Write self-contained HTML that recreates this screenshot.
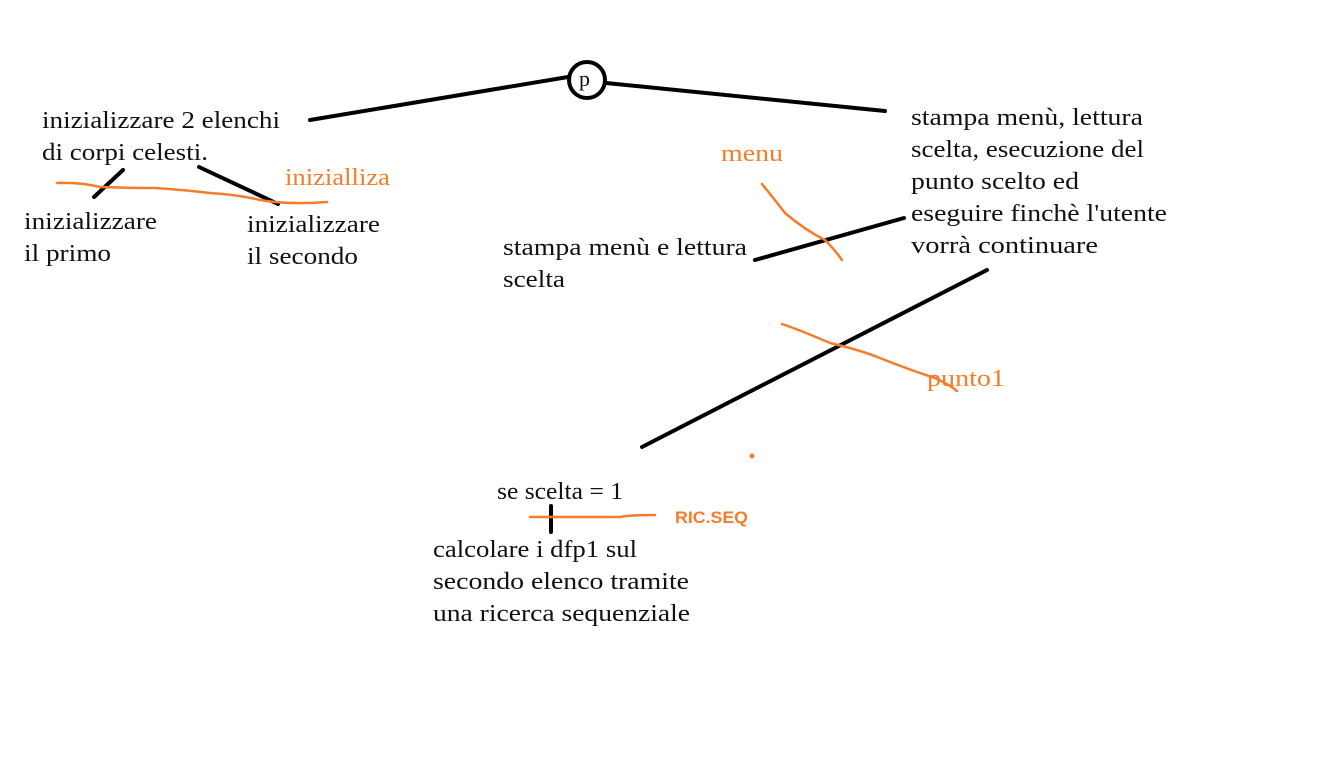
<!DOCTYPE html>
<html><head><meta charset="utf-8"><style>
html,body{margin:0;padding:0;background:#fff;}
svg{display:block}
text{font-family:"Liberation Serif",serif;font-size:24px;fill:#111;}
.o{fill:#f47c2a;}
</style></head><body>
<svg width="1339" height="761" viewBox="0 0 1339 761" xmlns="http://www.w3.org/2000/svg">
<g stroke="#000" stroke-width="4" stroke-linecap="round" fill="none">
<line x1="310" y1="120" x2="568" y2="77"/>
<line x1="606" y1="83" x2="885" y2="111"/>
<circle cx="587" cy="80" r="18"/>
<line x1="123" y1="170" x2="94" y2="197"/>
<line x1="199" y1="167" x2="278" y2="204"/>
<line x1="755" y1="260" x2="904" y2="218"/>
<line x1="987" y1="270" x2="642" y2="447"/>
<line x1="551" y1="506" x2="551" y2="532"/>
</g>
<g stroke="#f47c2a" stroke-width="2.5" stroke-linecap="round" fill="none">
<path d="M57 183 Q80 182 100 187 Q130 188 155 188 Q185 190 210 193 Q240 195 260 200 Q290 205 327 202"/>
<path d="M762 184 Q775 200 785 213 Q805 230 825 240 Q835 250 842 260"/>
<path d="M782 324 Q800 330 830 343 Q860 350 880 358 Q910 370 935 378 Q950 385 957 391"/>
<path d="M530 517 L620 517 Q630 515 655 515"/>
</g>
<circle cx="752" cy="456" r="2.5" fill="#f47c2a"/>
<g lengthAdjust="spacingAndGlyphs">
<text x="42" y="128" textLength="238" lengthAdjust="spacingAndGlyphs">inizializzare 2 elenchi</text>
<text x="42" y="160" textLength="166" lengthAdjust="spacingAndGlyphs">di corpi celesti.</text>
<text x="24" y="229" textLength="133" lengthAdjust="spacingAndGlyphs">inizializzare</text>
<text x="24" y="261" textLength="87" lengthAdjust="spacingAndGlyphs">il primo</text>
<text x="247" y="232" textLength="133" lengthAdjust="spacingAndGlyphs">inizializzare</text>
<text x="247" y="264" textLength="111" lengthAdjust="spacingAndGlyphs">il secondo</text>
<text x="579" y="86" style="font-size:22px">p</text>
<text x="911" y="125" textLength="232" lengthAdjust="spacingAndGlyphs">stampa menù, lettura</text>
<text x="911" y="157" textLength="233" lengthAdjust="spacingAndGlyphs">scelta, esecuzione del</text>
<text x="911" y="189" textLength="168" lengthAdjust="spacingAndGlyphs">punto scelto ed</text>
<text x="911" y="221" textLength="256" lengthAdjust="spacingAndGlyphs">eseguire finchè l'utente</text>
<text x="911" y="253" textLength="187" lengthAdjust="spacingAndGlyphs">vorrà continuare</text>
<text x="503" y="255" textLength="244" lengthAdjust="spacingAndGlyphs">stampa menù e lettura</text>
<text x="503" y="287" textLength="62" lengthAdjust="spacingAndGlyphs">scelta</text>
<text x="497" y="499" textLength="126" lengthAdjust="spacingAndGlyphs">se scelta = 1</text>
<text x="433" y="557" textLength="204" lengthAdjust="spacingAndGlyphs">calcolare i dfp1 sul</text>
<text x="433" y="589" textLength="256" lengthAdjust="spacingAndGlyphs">secondo elenco tramite</text>
<text x="433" y="621" textLength="257" lengthAdjust="spacingAndGlyphs">una ricerca sequenziale</text>
<text class="o" x="285" y="185" textLength="105" lengthAdjust="spacingAndGlyphs">inizialliza</text>
<text class="o" x="721" y="161" textLength="62" lengthAdjust="spacingAndGlyphs">menu</text>
<text class="o" x="927" y="386" textLength="78" lengthAdjust="spacingAndGlyphs">punto1</text>
<text class="o" x="675" y="523" textLength="73" lengthAdjust="spacingAndGlyphs" style="font-size:17px;font-weight:bold;font-family:'Liberation Sans',sans-serif">RIC.SEQ</text>
</g>
</svg>
</body></html>
